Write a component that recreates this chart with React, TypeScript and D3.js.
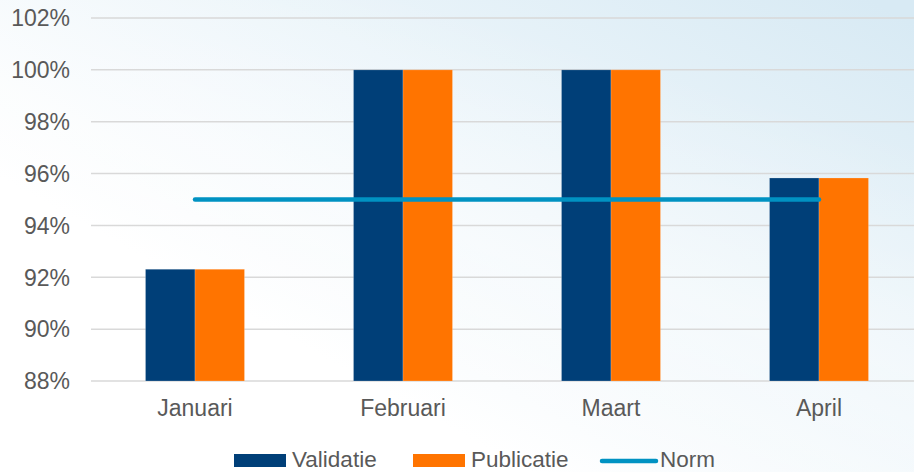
import React from "react";
import * as d3 from "d3";

const categories = ["Januari", "Februari", "Maart", "April"];
const validatie = [92.31, 100, 100, 95.83];
const publicatie = [92.31, 100, 100, 95.83];
const norm = [95, 95, 95, 95];
const yTicks = [88, 90, 92, 94, 96, 98, 100, 102];
const seriesNames = ["Validatie", "Publicatie", "Norm"];

const W = 914;
const H = 472;
const FONT = "'Liberation Sans', Arial, sans-serif";
const TXT = "#595959";
const C_VAL = "#003F78";
const C_PUB = "#FF7400";
const C_NORM = "#0092C2";

export default function App() {
  const x = d3.scaleBand<string>().domain(categories).range([91, 923]).paddingInner(0).paddingOuter(0);
  const y = d3.scaleLinear().domain([88, 102]).range([381, 18]);
  const barW = 49.5;
  const line = d3
    .line<number>()
    .x((_, i) => (x(categories[i]) as number) + x.bandwidth() / 2)
    .y((d) => y(d));

  return (
    <svg width={W} height={H} style={{ position: "absolute", left: 0, top: 0 }}>
      <defs>
        <linearGradient id="bg" x1="0.3" y1="0.7" x2="1" y2="0.05">
          <stop offset="0" stopColor="#ffffff" />
          <stop offset="0.5" stopColor="#ecf5fa" />
          <stop offset="1" stopColor="#d8eaf4" />
        </linearGradient>
        <linearGradient id="streak" x1="0.6" y1="1" x2="1" y2="0.3">
          <stop offset="0" stopColor="#ffffff" stopOpacity="0" />
          <stop offset="0.5" stopColor="#ffffff" stopOpacity="0.35" />
          <stop offset="1" stopColor="#ffffff" stopOpacity="0" />
        </linearGradient>
      </defs>
      <rect x={0} y={0} width={W} height={H} fill="url(#bg)" />
      <rect x={0} y={0} width={W} height={H} fill="url(#streak)" />
      {yTicks.map((t) => (
        <g key={t}>
          <line x1={91} x2={W} y1={y(t)} y2={y(t)} stroke="#d9d9d9" strokeWidth={1.5} />
          <text
            x={70}
            y={y(t)}
            dy="0.36em"
            textAnchor="end"
            fontFamily={FONT}
            fontSize={23}
            fill={TXT}
          >
            {t}%
          </text>
        </g>
      ))}
      {categories.map((c, i) => {
        const cx = (x(c) as number) + x.bandwidth() / 2;
        return (
          <g key={c}>
            <rect
              x={cx - barW}
              y={y(validatie[i])}
              width={barW}
              height={y(88) - y(validatie[i])}
              fill={C_VAL}
              stroke="#ffffff"
              strokeOpacity={0.25}
              strokeWidth={0.8}
            />
            <rect
              x={cx}
              y={y(publicatie[i])}
              width={barW}
              height={y(88) - y(publicatie[i])}
              fill={C_PUB}
              stroke="#ffffff"
              strokeOpacity={0.25}
              strokeWidth={0.8}
            />
            <text
              x={cx}
              y={416}
              textAnchor="middle"
              fontFamily={FONT}
              fontSize={23}
              fill={TXT}
            >
              {c}
            </text>
          </g>
        );
      })}
      <path d={line(norm) || ""} fill="none" stroke={C_NORM} strokeWidth={4.5} strokeLinecap="round" />
      <g fontFamily={FONT} fontSize={22.5} fill={TXT}>
        <rect x={234} y={454} width={52} height={13} fill={C_VAL} />
        <text x={292} y={467}>{seriesNames[0]}</text>
        <rect x={413} y={454} width={52} height={13} fill={C_PUB} />
        <text x={471} y={467}>{seriesNames[1]}</text>
        <line x1={602} x2={656} y1={461} y2={461} stroke={C_NORM} strokeWidth={4.5} strokeLinecap="round" />
        <text x={660} y={467}>{seriesNames[2]}</text>
      </g>
    </svg>
  );
}
